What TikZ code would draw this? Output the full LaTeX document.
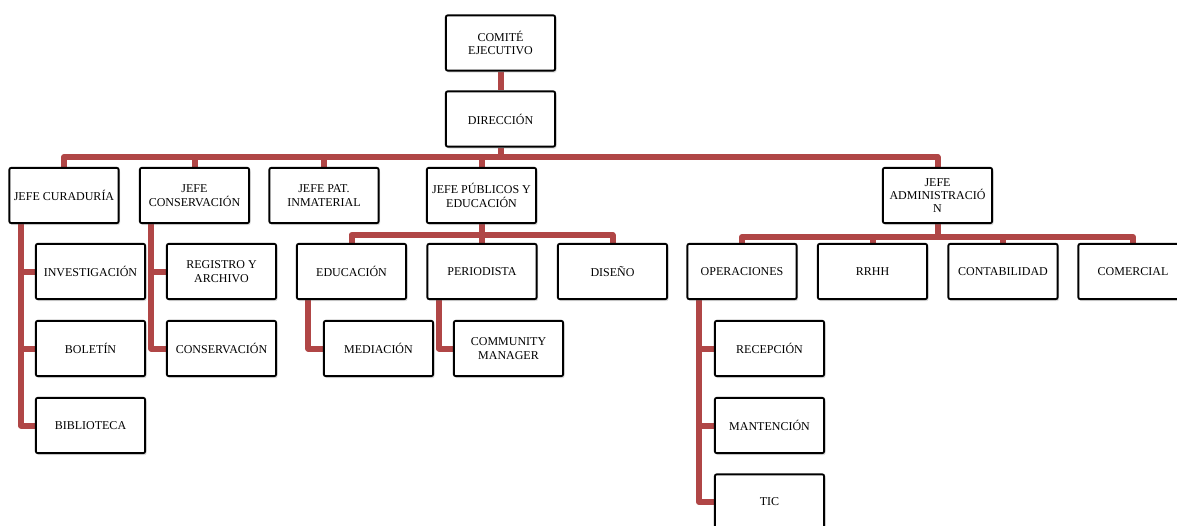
\documentclass[tikz,border=0pt]{standalone}
\usepackage{fontspec}
\setmainfont{Liberation Serif}
\usetikzlibrary{shadows,backgrounds}
\definecolor{conn}{RGB}{176,70,70}
\begin{document}
\begin{tikzpicture}[x=0.75pt,y=-0.75pt,
  box/.style={draw=black, line width=1.4pt, rounded corners=1.5pt, fill=white,
    minimum width=82pt, minimum height=41.5pt, align=center, inner sep=1pt,
    font=\fontsize{9}{10}\selectfont,
    drop shadow={opacity=0.25, shadow xshift=1pt, shadow yshift=-1.5pt}},
  link/.style={draw=conn, line width=4.5pt, line join=round}]
\clip (0,0) rectangle (1177,525);
% level 0/1
\node[box] (ce) at (500.5,43) {COMITÉ\\EJECUTIVO};
\node[box] (dir) at (500.5,119) {DIRECCIÓN};
% level 2
\node[box] (jcur) at (64,195.5) {JEFE CURADURÍA};
\node[box] (jcon) at (194.5,195.5) {JEFE\\CONSERVACIÓN};
\node[box] (jpat) at (324,195.5) {JEFE PAT.\\INMATERIAL};
\node[box] (jpub) at (481.5,195.5) {JEFE PÚBLICOS Y\\EDUCACIÓN};
\node[box] (jadm) at (937.5,195.5) {JEFE\\ADMINISTRACIÓ\\N};
% level 3
\node[box] (inv) at (90.5,271.5) {INVESTIGACIÓN};
\node[box] (reg) at (221.5,271.5) {REGISTRO Y\\ARCHIVO};
\node[box] (edu) at (351.5,271.5) {EDUCACIÓN};
\node[box] (per) at (482,271.5) {PERIODISTA};
\node[box] (dis) at (612.5,271.5) {DISEÑO};
\node[box] (ope) at (742,271.5) {OPERACIONES};
\node[box] (rrhh) at (872.5,271.5) {RRHH};
\node[box] (cont) at (1003,271.5) {CONTABILIDAD};
\node[box] (com) at (1133,271.5) {COMERCIAL};
% level 4
\node[box] (bol) at (90.5,348.5) {BOLETÍN};
\node[box] (cons) at (221.5,348.5) {CONSERVACIÓN};
\node[box] (med) at (378.5,348.5) {MEDIACIÓN};
\node[box] (cm) at (508.5,348.5) {COMMUNITY\\MANAGER};
\node[box] (rec) at (769.5,348.5) {RECEPCIÓN};
% level 5
\node[box] (bib) at (90.5,425.5) {BIBLIOTECA};
\node[box] (man) at (769.5,425.5) {MANTENCIÓN};
% level 6
\node[box] (tic) at (769.5,502) {TIC};

\begin{scope}[on background layer]
\draw[link] (ce.south) -- (dir.north);
\coordinate (b1) at (500.5,157);
\draw[link] (dir.south) -- (b1);
\draw[link] (jcur.north) |- (b1) -| (jadm.north);
\draw[link] (jcon.north) -- (jcon.north |- b1);
\draw[link] (jpat.north) -- (jpat.north |- b1);
\draw[link] (jpub.north) -- (jpub.north |- b1);
% publicos children
\coordinate (b2) at (481.5,235);
\draw[link] (jpub.south) -- (b2);
\draw[link] (edu.north) |- (b2) -| (dis.north);
\draw[link] (per.north) -- (per.north |- b2);
% admin children
\coordinate (b3) at (937.5,237);
\draw[link] (jadm.south) -- (b3);
\draw[link] (ope.north) |- (b3) -| (com.north);
\draw[link] (rrhh.north) -- (rrhh.north |- b3);
\draw[link] (cont.north) -- (cont.north |- b3);
% spines
\coordinate (s1) at ([xshift=9.4pt]jcur.south west);
\draw[link] (s1) |- (bib.west);
\draw[link] (s1 |- inv.west) -- (inv.west);
\draw[link] (s1 |- bol.west) -- (bol.west);
\coordinate (s2) at ([xshift=9.4pt]jcon.south west);
\draw[link] (s2) |- (cons.west);
\draw[link] (s2 |- reg.west) -- (reg.west);
\coordinate (s3) at ([xshift=9.4pt]edu.south west);
\draw[link] (s3) |- (med.west);
\coordinate (s4) at ([xshift=9.4pt]per.south west);
\draw[link] (s4) |- (cm.west);
\coordinate (s5) at ([xshift=9.4pt]ope.south west);
\draw[link] (s5) |- (tic.west);
\draw[link] (s5 |- rec.west) -- (rec.west);
\draw[link] (s5 |- man.west) -- (man.west);
\end{scope}
\end{tikzpicture}
\end{document}
